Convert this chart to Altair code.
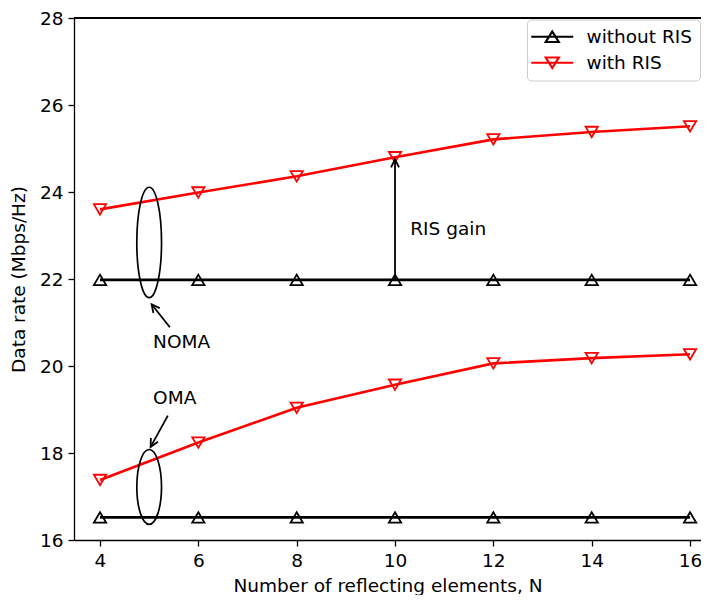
import altair as alt
import pandas as pd

FONT = "DejaVu Sans"
FS = 18.5

# ---------------- data ----------------
N = [4, 6, 8, 10, 12, 14, 16]
noma_without_ris = [21.98, 21.98, 21.98, 21.98, 21.98, 21.98, 21.98]
noma_with_ris = [23.60, 23.99, 24.36, 24.80, 25.21, 25.38, 25.51]
oma_without_ris = [16.52, 16.52, 16.52, 16.52, 16.52, 16.52, 16.52]
oma_with_ris = [17.38, 18.24, 19.04, 19.57, 20.06, 20.18, 20.27]

series_names = ["without RIS", "with RIS"]
series_colors = ["black", "red"]

x_ticks = [4, 6, 8, 10, 12, 14, 16]
y_ticks = [16, 18, 20, 22, 24, 26, 28]

# annotations (data coordinates)
ellipse_x = [5.0, 5.0]
ellipse_y = [22.84, 17.22]
arrow_x = [10.0, 5.42, 5.38]
arrow_y = [21.98, 20.89, 18.86]
arrow_x2 = [10.0, 5.05, 5.03]
arrow_y2 = [24.75, 21.42, 18.14]
label_text = ["RIS gain", "NOMA", "OMA"]
label_x = [10.31, 5.08, 5.08]
label_y = [23.16, 20.56, 19.27]

rows = []
for scheme, s, vals in [
    ("NOMA", "without RIS", noma_without_ris),
    ("NOMA", "with RIS", noma_with_ris),
    ("OMA", "without RIS", oma_without_ris),
    ("OMA", "with RIS", oma_with_ris),
]:
    for n, v in zip(N, vals):
        rows.append({"N": n, "rate": v, "series": s, "scheme": scheme})
df = pd.DataFrame(rows)

xs = alt.Scale(domain=[3.4712, 16.223], nice=False, zero=False)
ys = alt.Scale(domain=[16, 28], nice=False, zero=False)
cs = alt.Scale(domain=series_names, range=series_colors)

TRI_UP = "M0,-0.85L1,0.85L-1,0.85Z"
TRI_DOWN = "M0,0.85L1,-0.85L-1,-0.85Z"
LEG_UP = "M-4.2,0L4.2,0M0,-1.05L1.3,1.05L-1.3,1.05Z"
LEG_DOWN = "M-4.2,0L4.2,0M0,1.05L1.3,-1.05L-1.3,-1.05Z"
CHEVRON = "M-0.5,1L0,0L0.5,1"
ELL_NOMA = "M0,-1A0.224,1 0 1,1 0,1A0.224,1 0 1,1 0,-1Z"
ELL_OMA = "M0,-1A0.33,1 0 1,1 0,1A0.33,1 0 1,1 0,-1Z"

x_axis = alt.Axis(values=x_ticks, title="Number of reflecting elements, N")
y_axis = alt.Axis(values=y_ticks, title="Data rate (Mbps/Hz)")


def XE(field):
    return alt.X(field, scale=xs, axis=x_axis)


def YE(field):
    return alt.Y(field, scale=ys, axis=y_axis)


leg = alt.Legend(
    title=None, orient="none", legendX=453, legendY=1.5,
    labelFont=FONT, labelFontSize=FS, labelColor="black",
    strokeColor="#cccccc", fillColor="white", cornerRadius=4,
    padding=8, rowPadding=6, labelOffset=25, symbolSize=100,
    symbolStrokeWidth=2.2, symbolOffset=8,
)
CE = alt.Color("series:N", scale=cs, legend=leg)

legend_layer = alt.Chart(df).transform_filter("false").mark_point(
    filled=False, opacity=1, strokeWidth=2.2
).encode(
    x=XE("N:Q"), y=YE("rate:Q"), color=CE,
    shape=alt.Shape("series:N", scale=alt.Scale(domain=series_names, range=[LEG_UP, LEG_DOWN]), legend=leg),
)

base = alt.Chart(df)
lines = base.mark_line(strokeWidth=2.6).encode(
    x=XE("N:Q"), y=YE("rate:Q"), color=CE, detail="scheme:N",
)
pts_up = base.transform_filter(alt.datum.series == "without RIS").mark_point(
    shape=TRI_UP, size=150, filled=False, strokeWidth=1.8, opacity=1
).encode(x=XE("N:Q"), y=YE("rate:Q"), color=CE)
pts_down = base.transform_filter(alt.datum.series == "with RIS").mark_point(
    shape=TRI_DOWN, size=150, filled=False, strokeWidth=1.8, opacity=1
).encode(x=XE("N:Q"), y=YE("rate:Q"), color=CE)

ell_layers = []
for i, (shape, size) in enumerate([(ELL_NOMA, 12200), (ELL_OMA, 5600)]):
    d = pd.DataFrame({"N": [ellipse_x[i]], "rate": [ellipse_y[i]]})
    ell_layers.append(
        alt.Chart(d).mark_point(shape=shape, size=size, filled=False, color="black",
                                strokeWidth=1.7, opacity=1).encode(x=XE("N:Q"), y=YE("rate:Q"))
    )

adf = pd.DataFrame({"N": arrow_x, "rate": arrow_y, "N2": arrow_x2, "rate2": arrow_y2})
arrow_lines = alt.Chart(adf).mark_rule(color="black", strokeWidth=1.8).encode(
    x=XE("N:Q"), y=YE("rate:Q"), x2="N2:Q", y2="rate2:Q",
)
head_layers = []
for i, ang in enumerate([0, 322, 208]):
    d = pd.DataFrame({"N": [arrow_x2[i]], "rate": [arrow_y2[i]]})
    head_layers.append(
        alt.Chart(d).mark_point(shape=CHEVRON, size=256, angle=ang, filled=False,
                                color="black", strokeWidth=1.8, opacity=1).encode(
            x=XE("N:Q"), y=YE("rate:Q"))
    )

tdf = pd.DataFrame({"t": label_text, "N": label_x, "rate": label_y})
texts = alt.Chart(tdf).mark_text(
    align="left", baseline="middle", font=FONT, fontSize=FS, color="black"
).encode(x=XE("N:Q"), y=YE("rate:Q"), text="t:N")

top_spine = alt.Chart(df).mark_rule(color="black", strokeWidth=1.3).encode(
    x=alt.value(0), x2=alt.value(640), y=alt.value(0)
)

chart = alt.layer(
    legend_layer, lines, pts_up, pts_down, *ell_layers, arrow_lines, *head_layers, texts, top_spine
).properties(
    width=627, height=522,
    autosize=alt.AutoSizeParams(type="none"),
    padding={"left": 66, "top": 10, "right": 0, "bottom": 55},
).configure_view(
    stroke=None
).configure_axis(
    grid=False, labelFont=FONT, labelFontSize=FS, labelColor="black",
    titleFont=FONT, titleFontSize=FS, titleFontWeight="normal", titleColor="black",
    tickColor="black", domainColor="black", tickSize=6, tickWidth=1.3, domainWidth=1.3,
    labelPadding=5,
).configure_axisX(titlePadding=7).configure_axisY(titlePadding=11)

chart.save("out.html", embed_options={"renderer": "svg", "actions": False})
